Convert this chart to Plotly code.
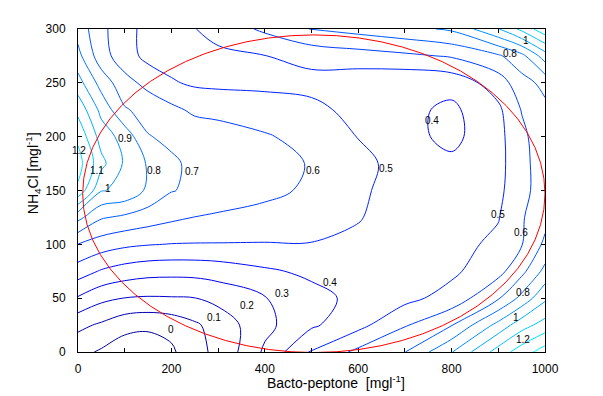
import plotly.graph_objects as go

# ---- data (response surface, grid estimates) ----
peptone = [0, 50, 100, 150, 200, 250, 300, 400, 500, 600, 700, 800, 900, 950, 1000]
nh4cl = [0, 25, 50, 75, 100, 125, 150, 175, 200, 225, 250, 275, 300]

z_y000 = [0.03, -0.013, -0.06, -0.06, -0.02, 0.08, 0.115, 0.317, 0.513, 0.624, 0.698, 0.895, 1.144, 1.25, 1.35]
z_y025 = [0.125, 0.085, 0.035, 0.02, 0.04, 0.085, 0.139, 0.272, 0.384, 0.469, 0.592, 0.695, 0.933, 1.06, 1.14]
z_y050 = [0.29, 0.225, 0.198, 0.19, 0.193, 0.198, 0.229, 0.295, 0.368, 0.426, 0.471, 0.54, 0.69, 0.83, 0.98]
z_y075 = [0.45, 0.39, 0.355, 0.335, 0.33, 0.333, 0.345, 0.385, 0.42, 0.44, 0.46, 0.48, 0.57, 0.67, 0.83]
z_y100 = [0.598, 0.55, 0.52, 0.505, 0.497, 0.495, 0.495, 0.495, 0.497, 0.482, 0.462, 0.47, 0.52, 0.595, 0.72]
z_y125 = [0.83, 0.71, 0.68, 0.65, 0.62, 0.598, 0.585, 0.56, 0.535, 0.505, 0.46, 0.44, 0.495, 0.59, 0.67]
z_y150 = [1.18, 0.905, 0.88, 0.78, 0.705, 0.68, 0.665, 0.63, 0.58, 0.52, 0.45, 0.43, 0.48, 0.56, 0.665]
z_y175 = [1.24, 1.03, 0.885, 0.79, 0.715, 0.68, 0.67, 0.64, 0.593, 0.53, 0.46, 0.42, 0.47, 0.565, 0.66]
z_y200 = [1.18, 0.955, 0.86, 0.705, 0.68, 0.665, 0.655, 0.61, 0.565, 0.497, 0.43, 0.375, 0.47, 0.575, 0.665]
z_y225 = [1.07, 0.87, 0.71, 0.665, 0.625, 0.58, 0.565, 0.545, 0.525, 0.47, 0.425, 0.38, 0.48, 0.605, 0.675]
z_y250 = [0.94, 0.76, 0.635, 0.57, 0.51, 0.485, 0.48, 0.478, 0.47, 0.44, 0.42, 0.435, 0.55, 0.66, 0.73]
z_y275 = [0.83, 0.64, 0.545, 0.47, 0.46, 0.465, 0.475, 0.498, 0.53, 0.555, 0.58, 0.61, 0.685, 0.77, 0.95]
z_y300 = [0.76, 0.625, 0.535, 0.468, 0.455, 0.497, 0.54, 0.618, 0.705, 0.735, 0.77, 0.815, 0.995, 1.125, 1.27]

response = [z_y000, z_y025, z_y050, z_y075, z_y100, z_y125, z_y150,
            z_y175, z_y200, z_y225, z_y250, z_y275, z_y300]

level_start = 0.0
level_end = 1.3
level_step = 0.1

# contour labels as printed on the reference
label_text = ["0", "0.1", "0.2", "0.3", "0.4", "0.4", "0.5", "0.5", "0.6", "0.6",
              "0.7", "0.8", "0.8", "0.8", "0.9", "1", "1", "1", "1.1", "1.2", "1.2"]
label_at_x = [199, 291, 362, 437, 540, 758, 659, 899, 503, 949,
              245, 163, 926, 952, 100, 65, 959, 938, 41, 2, 952]
label_at_y = [21, 32, 43, 54, 65, 215, 170, 128, 169, 111,
              168, 169, 277, 55, 198, 152, 289, 32, 169, 187, 12]

y_tick_vals = [0, 50, 100, 150, 200, 250, 300]

FONT = "Liberation Sans, Arial, sans-serif"

fig = go.Figure()
fig.add_trace(go.Contour(
    x=peptone, y=nh4cl, z=response,
    autocontour=False,
    contours=dict(start=level_start, end=level_end, size=level_step,
                  coloring="lines", showlabels=False),
    colorscale=[[0, "rgb(0,0,150)"], [0.292, "rgb(0,0,255)"], [1, "rgb(0,255,255)"]],
    line=dict(width=1, smoothing=1.0),
    showscale=False,
    hoverinfo="skip",
))

# experimental design region (red ellipse)
fig.add_shape(type="circle", xref="x", yref="y",
              x0=10, x1=1000, y0=-0.5, y1=294.5,
              line=dict(color="red", width=1), layer="above")

for t, lx, ly in zip(label_text, label_at_x, label_at_y):
    fig.add_annotation(x=lx, y=ly, xref="x", yref="y", text=t, showarrow=False,
                       font=dict(family=FONT, size=10, color="black"),
                       xanchor="center", yanchor="middle")

fig.add_annotation(x=0.552, y=-0.093, xref="paper", yref="paper",
                   text="Bacto-peptone  [mgl<sup>-1</sup>]", showarrow=False,
                   font=dict(family=FONT, size=14, color="black"),
                   xanchor="center", yanchor="middle")
fig.add_annotation(x=-0.096, y=0.554, xref="paper", yref="paper",
                   text="NH<sub>4</sub>Cl [mgl<sup>-1</sup>]", showarrow=False,
                   textangle=-90,
                   font=dict(family=FONT, size=14, color="black"),
                   xanchor="center", yanchor="middle")

axis_style = dict(ticks="inside", ticklen=4, tickcolor="black", showline=True,
                  linecolor="black", linewidth=1, mirror="ticks", showgrid=False,
                  zeroline=False, tickfont=dict(family=FONT, size=12, color="black"))

fig.update_xaxes(range=[0, 1000], tickmode="linear", tick0=0, dtick=200,
                 minor=dict(dtick=100, ticks="inside", ticklen=4, tickcolor="black",
                            showgrid=False),
                 ticklabelstandoff=6, **axis_style)
fig.update_yaxes(range=[0, 300], tickmode="array", tickvals=y_tick_vals,
                 ticklabelstandoff=9, **axis_style)

fig.update_layout(width=603, height=396,
                  margin=dict(l=78, r=58, t=29, b=44),
                  plot_bgcolor="white", paper_bgcolor="white",
                  showlegend=False,
                  font=dict(family=FONT, size=12, color="black"))

# remove the default 8 px page margin so the figure fills the 603x396 window
fig.write_html("out.html", config={"displayModeBar": False},
               post_script="document.body.style.margin='0px';")
